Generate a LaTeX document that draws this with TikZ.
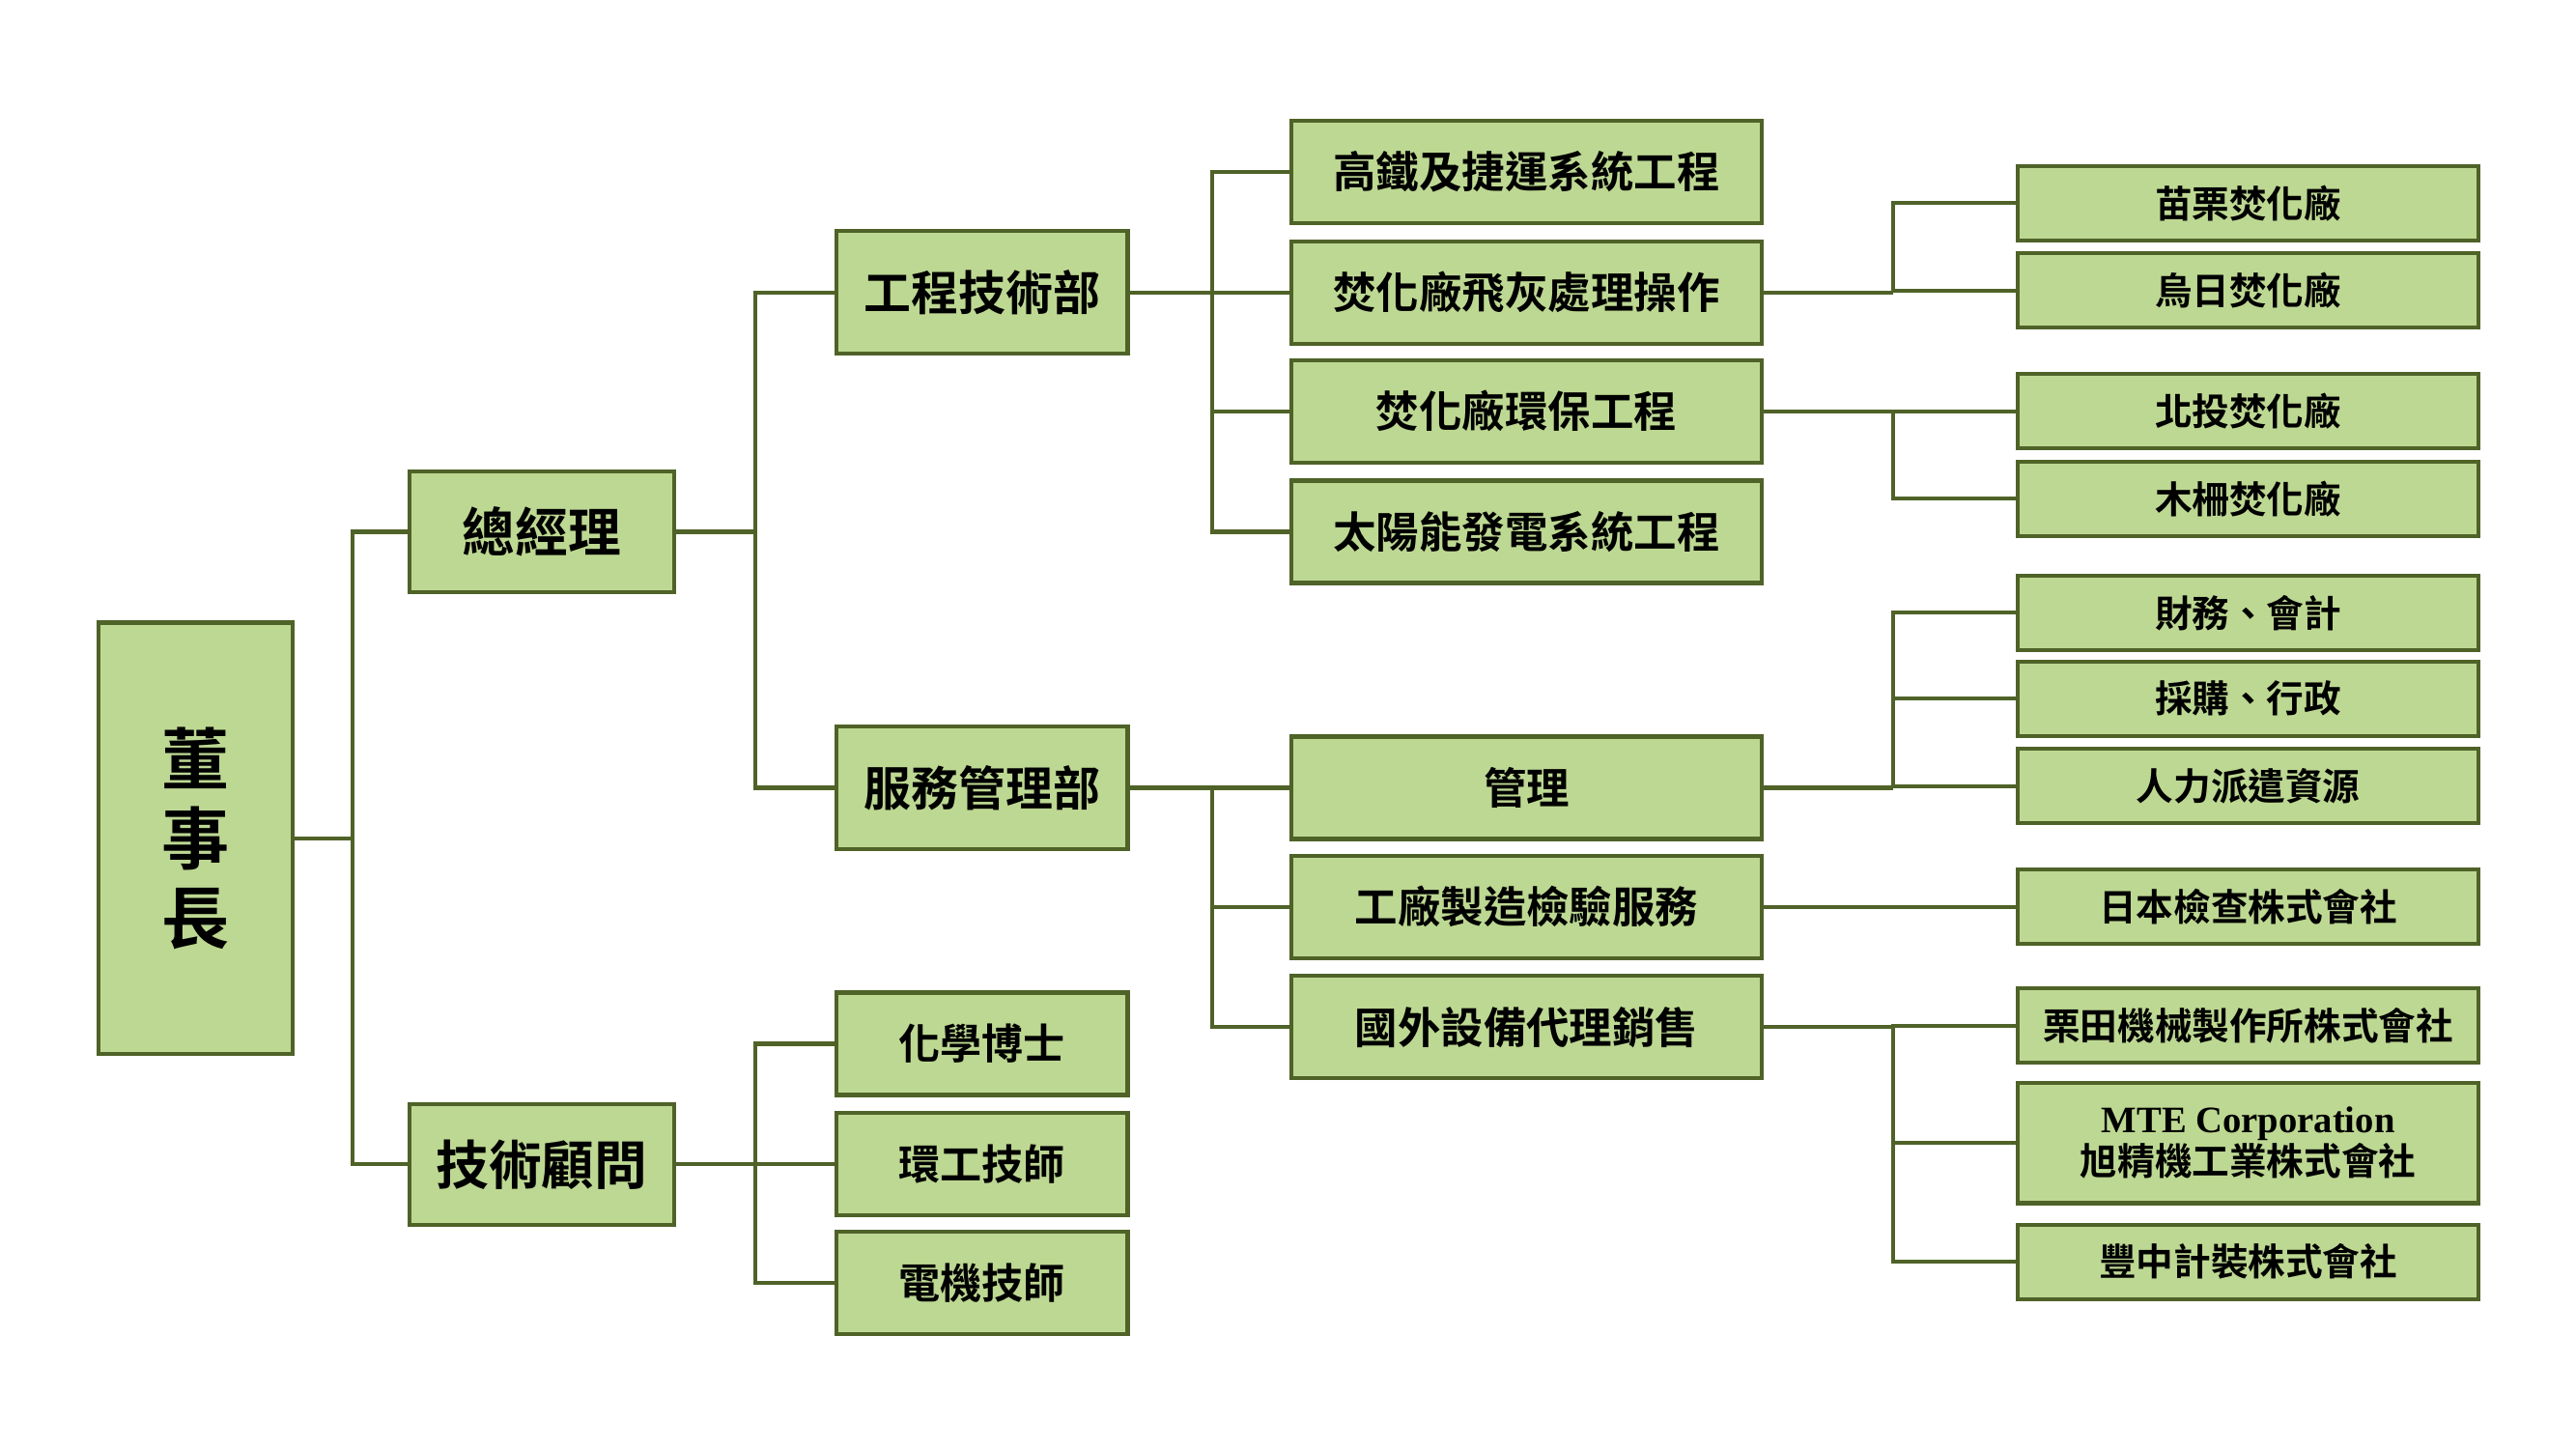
\documentclass[tikz,border=0pt]{standalone}
\usepackage{fontspec}
\setmainfont{Noto Sans CJK TC}[UprightFont=* Bold]
\newfontfamily\romanbold{Liberation Serif}[UprightFont=* Bold]
\definecolor{boxfill}{RGB}{189,216,146}
\definecolor{boxline}{RGB}{79,98,40}
\tikzset{
  orgbox/.style={draw=boxline,fill=boxfill,line width=1.2pt,inner sep=0pt,align=center},
  chairbox/.style={orgbox,minimum width=58.7pt,minimum height=130.5pt,font=\fontsize{20.5}{24}\selectfont},
  levelbox/.style={orgbox,minimum width=80.1pt,minimum height=36.5pt,font=\fontsize{16}{18}\selectfont},
  deptbox/.style={orgbox,minimum width=88.1pt,minimum height=37pt,font=\fontsize{14.3}{17}\selectfont},
  staffbox/.style={orgbox,minimum width=88.1pt,minimum height=31pt,font=\fontsize{12.6}{15}\selectfont},
  workbox/.style={orgbox,minimum width=142.5pt,minimum height=31pt,font=\fontsize{13}{15}\selectfont},
  partbox/.style={orgbox,minimum width=139.5pt,minimum height=22.5pt,font=\fontsize{11.3}{13}\selectfont},
  link/.style={draw=boxline,line width=1.2pt}
}
\begin{document}
\begin{tikzpicture}[x=0.5pt,y=-0.5pt]
  \useasboundingbox (0,0) rectangle (1560,877.5);
  % Chairman, general manager, advisors
  \node[chairbox] (chair) at (118.5,507.5) {董\\事\\長};
  \node[levelbox] (gm)    at (328,322) {總經理};
  \node[levelbox] (adv)   at (328,705) {技術顧問};
  % Departments
  \node[deptbox]  (eng)   at (594.8,177) {工程技術部};
  \node[deptbox]  (svc)   at (594.8,477) {服務管理部};
  \node[staffbox] (chem)  at (594.8,632) {化學博士};
  \node[staffbox] (envt)  at (594.8,705) {環工技師};
  \node[staffbox] (elec)  at (594.8,777) {電機技師};
  % Work items
  \node[workbox]  (rail)  at (924.5,104) {高鐵及捷運系統工程};
  \node[workbox]  (ash)   at (924.5,177) {焚化廠飛灰處理操作};
  \node[workbox]  (eco)   at (924.5,249) {焚化廠環保工程};
  \node[workbox]  (solar) at (924.5,322) {太陽能發電系統工程};
  \node[workbox]  (mgmt)  at (924.5,477) {管理};
  \node[workbox]  (insp)  at (924.5,549) {工廠製造檢驗服務};
  \node[workbox]  (sale)  at (924.5,622) {國外設備代理銷售};
  % Plants and partners
  \node[partbox]  (miao)  at (1361.5,123) {苗栗焚化廠};
  \node[partbox]  (wuri)  at (1361.5,176) {烏日焚化廠};
  \node[partbox]  (beit)  at (1361.5,249) {北投焚化廠};
  \node[partbox]  (muza)  at (1361.5,302) {木柵焚化廠};
  \node[partbox]  (fin)   at (1361.5,371) {財務、會計};
  \node[partbox]  (buy)   at (1361.5,423) {採購、行政};
  \node[partbox]  (hr)    at (1361.5,476) {人力派遣資源};
  \node[partbox]  (jic)   at (1361.5,549) {日本檢查株式會社};
  \node[partbox]  (kuri)  at (1361.5,621) {栗田機械製作所株式會社};
  \node[partbox,minimum height=36.5pt] (mte) at (1361.5,692) {{\romanbold MTE Corporation}\\旭精機工業株式會社};
  \node[partbox]  (toyo)  at (1361.5,764) {豐中計裝株式會社};
  % Connectors
  \draw[link] (chair.east) -- ++(35,0) coordinate (j1);
  \draw[link] (j1) |- (gm.west);  \draw[link] (j1) |- (adv.west);
  \draw[link] (gm.east) -- ++(48,0) coordinate (j2);
  \draw[link] (j2) |- (eng.west); \draw[link] (j2) |- (svc.west);
  \draw[link] (adv.east) -- ++(48,0) coordinate (j3);
  \draw[link] (j3) |- (chem.west); \draw[link] (j3) |- (envt.west); \draw[link] (j3) |- (elec.west);
  \draw[link] (eng.east) -- ++(50,0) coordinate (j4);
  \foreach \n in {rail,ash,eco,solar} \draw[link] (j4) |- (\n.west);
  \draw[link] (svc.east) -- ++(50,0) coordinate (j5);
  \foreach \n in {mgmt,insp,sale} \draw[link] (j5) |- (\n.west);
  \draw[link] (ash.east) -- ++(78,0) coordinate (j6);
  \foreach \n in {miao,wuri} \draw[link] (j6) |- (\n.west);
  \draw[link] (eco.east) -- ++(78,0) coordinate (j7);
  \foreach \n in {beit,muza} \draw[link] (j7) |- (\n.west);
  \draw[link] (mgmt.east) -- ++(78,0) coordinate (j8);
  \foreach \n in {fin,buy,hr} \draw[link] (j8) |- (\n.west);
  \draw[link] (insp.east) -- (jic.west);
  \draw[link] (sale.east) -- ++(78,0) coordinate (j9);
  \foreach \n in {kuri,mte,toyo} \draw[link] (j9) |- (\n.west);
\end{tikzpicture}
\end{document}
